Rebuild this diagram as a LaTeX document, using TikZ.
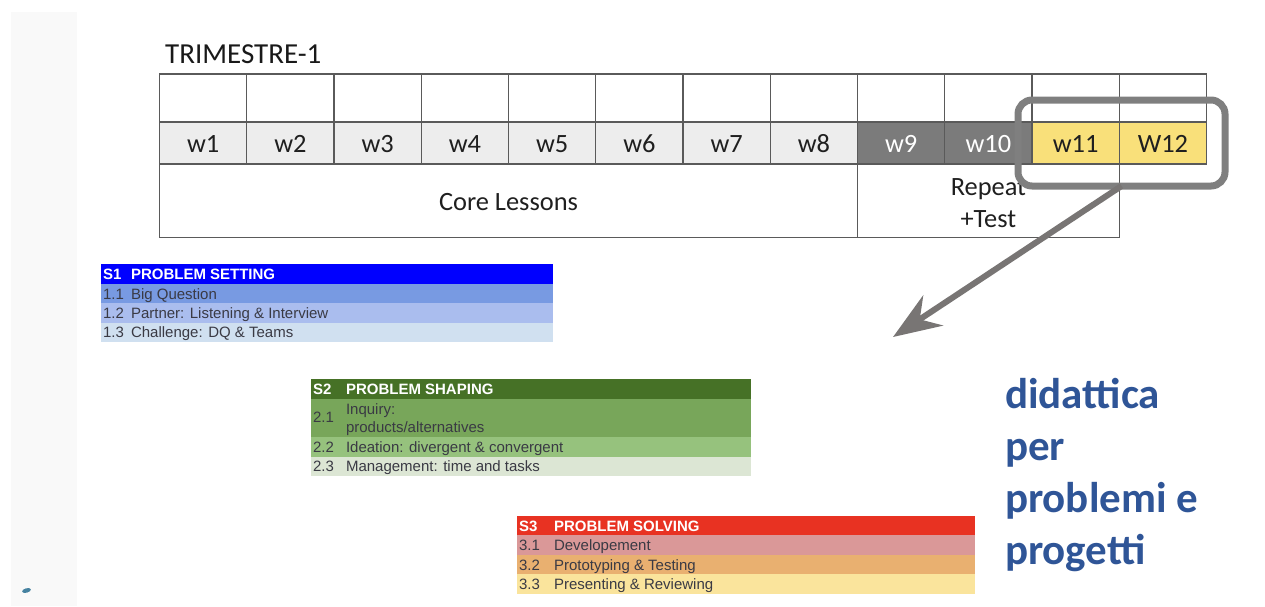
\documentclass[tikz,border=0pt]{standalone}
\usepackage{fontspec}
\setmainfont{Carlito}
\newfontfamily\sheet{Liberation Sans}
\usetikzlibrary{arrows.meta,positioning,calc,shapes.geometric}
\definecolor{gridc}{HTML}{5A5A5A}
\definecolor{lightcell}{HTML}{EDEDED}
\definecolor{darkcell}{HTML}{7B7B7B}
\definecolor{yellowcell}{HTML}{F9E07A}
\definecolor{hl}{HTML}{7F7F7F}
\definecolor{arrowc}{HTML}{787574}
\definecolor{bluetext}{HTML}{2F5597}
\definecolor{sheettext}{HTML}{3A3A44}
\tikzset{
  x=1pt,y=-1pt,
  cell/.style={draw=gridc,line width=1.1pt,minimum width=87.25pt,minimum height=42pt,inner sep=0pt,outer sep=0pt,anchor=north west,font=\fontsize{26.4}{26.4}\selectfont,text=black!88,text height=18pt,text depth=0pt},
  topcell/.style={cell,minimum height=48pt},
  weeklight/.style={cell,fill=lightcell},
  weekdark/.style={cell,fill=darkcell,text=white},
  weekyellow/.style={cell,fill=yellowcell},
  bigcell/.style={cell,minimum height=73.5pt},
  celltext/.style={inner sep=0pt,outer sep=0pt,align=center,font=\fontsize{26.4}{32}\selectfont,text=black!88},
  rowbar/.style={anchor=north west,inner sep=0pt,outer sep=0pt,draw=none},
  sheetlab/.style={anchor=base west,inner sep=0pt,outer sep=0pt,font=\sheet\fontsize{15}{15}\selectfont,text=sheettext},
  sheethead/.style={anchor=base west,inner sep=0pt,outer sep=0pt,font=\sheet\bfseries\fontsize{15}{15}\selectfont,text=white},
  didactic/.style={anchor=base west,inner sep=0pt,outer sep=0pt,font=\bfseries\fontsize{43}{43}\selectfont,text=bluetext},
}
\begin{document}
\begin{tikzpicture}
\useasboundingbox (0,0) rectangle (1265,606);
% side strip
\node[rowbar,fill=black!2.5,minimum width=66pt,minimum height=594pt] (strip) at (11,12) {};
\node[draw=none,fill={rgb,255:red,70;green,130;blue,160},ellipse,minimum width=9pt,minimum height=4.5pt,inner sep=0pt,rotate=15] (blob) at (26.5,590.5) {};
% title
\node[anchor=base west,inner sep=0pt,font=\fontsize{29}{29}\selectfont,text=black!90] (title) at (165,63) {TRIMESTRE-1};
% top row
\foreach \i/\xx in {1/159.5,2/246.75,3/334,4/421.25,5/508.5,6/595.75,7/683,8/770.25,9/857.5,10/944.75,11/1032,12/1119.25}{
  \node[topcell] (t\i) at (\xx,74) {};
}
% week row
\node[weeklight] (w1) at (159.5,122) {w1};
\node[weeklight] (w2) at (246.75,122) {w2};
\node[weeklight] (w3) at (334,122) {w3};
\node[weeklight] (w4) at (421.25,122) {w4};
\node[weeklight] (w5) at (508.5,122) {w5};
\node[weeklight] (w6) at (595.75,122) {w6};
\node[weeklight] (w7) at (683,122) {w7};
\node[weeklight] (w8) at (770.25,122) {w8};
\node[weekdark] (w9) at (857.5,122) {w9};
\node[weekdark] (w10) at (944.75,122) {w10};
\node[weekyellow] (w11) at (1032,122) {w11};
\node[weekyellow] (w12) at (1119.25,122) {W12};
% lessons row
\node[bigcell,minimum width=698pt] (core) at (159.5,164) {};
\node[bigcell,minimum width=261.75pt] (repeat) at (857.5,164) {};
\node[celltext,yshift=-1.5pt] (coretext) at (core.center) {Core Lessons};
\node[celltext,yshift=-2pt] (repeattext) at (repeat.center) {Repeat\\+Test};
% highlight and arrow
\node[draw=hl,line width=7pt,rounded corners=14pt,minimum width=207pt,minimum height=86pt,inner sep=0pt,outer sep=0pt,anchor=north west] (highlight) at (1018,100) {};
\coordinate (target) at (893,337);
\draw[arrowc,line width=6pt,-{Stealth[length=48pt,width=36pt,inset=16pt]}] (highlight.south) -- (target);
% S1
\node[rowbar,fill=blue,minimum width=452pt,minimum height=20pt] (s1h) at (101,263.5) {};
\node[rowbar,fill={rgb,255:red,120;green,154;blue,226},minimum width=452pt,minimum height=19.5pt] (s1a) at (101,283.5) {};
\node[rowbar,fill={rgb,255:red,170;green,189;blue,238},minimum width=452pt,minimum height=19.5pt] (s1b) at (101,303) {};
\node[rowbar,fill={rgb,255:red,208;green,224;blue,240},minimum width=452pt,minimum height=19.5pt] (s1c) at (101,322.5) {};
\node[sheethead] (s1hn) at (103,279) {S1};
\node[sheethead] (s1ht) at (131,279) {PROBLEM SETTING};
\node[sheetlab] (s1an) at (103,299) {1.1};
\node[sheetlab] (s1at) at (131,299) {Big Question};
\node[sheetlab] (s1bn) at (103,318) {1.2};
\node[sheetlab] (s1bt) at (131,318) {Partner: Listening \& Interview};
\node[sheetlab] (s1cn) at (103,337) {1.3};
\node[sheetlab] (s1ct) at (131,337) {Challenge: DQ \& Teams};
% S2
\node[rowbar,fill={rgb,255:red,70;green,113;blue,38},minimum width=440pt,minimum height=19.5pt] (s2h) at (311,379) {};
\node[rowbar,fill={rgb,255:red,120;green,166;blue,90},minimum width=440pt,minimum height=38pt] (s2a) at (311,398.5) {};
\node[rowbar,fill={rgb,255:red,150;green,194;blue,125},minimum width=440pt,minimum height=20pt] (s2b) at (311,436.5) {};
\node[rowbar,fill={rgb,255:red,220;green,230;blue,212},minimum width=440pt,minimum height=19pt] (s2c) at (311,456.5) {};
\node[sheethead] (s2hn) at (313,394.5) {S2};
\node[sheethead] (s2ht) at (346,394.5) {PROBLEM SHAPING};
\node[sheetlab] (s2an) at (313,422) {2.1};
\node[sheetlab] (s2at) at (346,414) {Inquiry:};
\node[sheetlab] (s2at2) at (346,432) {products/alternatives};
\node[sheetlab] (s2bn) at (313,452) {2.2};
\node[sheetlab] (s2bt) at (346,452) {Ideation: divergent \& convergent};
\node[sheetlab] (s2cn) at (313,471) {2.3};
\node[sheetlab] (s2ct) at (346,471) {Management: time and tasks};
% S3
\node[rowbar,fill={rgb,255:red,232;green,50;blue,34},minimum width=458pt,minimum height=19.5pt] (s3h) at (517,515.5) {};
\node[rowbar,fill={rgb,255:red,218;green,152;blue,152},minimum width=458pt,minimum height=20pt] (s3a) at (517,535) {};
\node[rowbar,fill={rgb,255:red,233;green,176;blue,112},minimum width=458pt,minimum height=19pt] (s3b) at (517,555) {};
\node[rowbar,fill={rgb,255:red,250;green,228;blue,156},minimum width=458pt,minimum height=20pt] (s3c) at (517,574) {};
\node[sheethead] (s3hn) at (519,531) {S3};
\node[sheethead] (s3ht) at (554,531) {PROBLEM SOLVING};
\node[sheetlab] (s3an) at (519,550.5) {3.1};
\node[sheetlab] (s3at) at (554,550.5) {Developement};
\node[sheetlab] (s3bn) at (519,570) {3.2};
\node[sheetlab] (s3bt) at (554,570) {Prototyping \& Testing};
\node[sheetlab] (s3cn) at (519,589.5) {3.3};
\node[sheetlab] (s3ct) at (554,589.5) {Presenting \& Reviewing};
% blue text
\node[didactic] (d1) at (1005,408.5) {didattica};
\node[didactic] (d2) at (1005,460.5) {per};
\node[didactic] (d3) at (1005,512.5) {problemi e};
\node[didactic] (d4) at (1005,564.5) {progetti};
\end{tikzpicture}
\end{document}
